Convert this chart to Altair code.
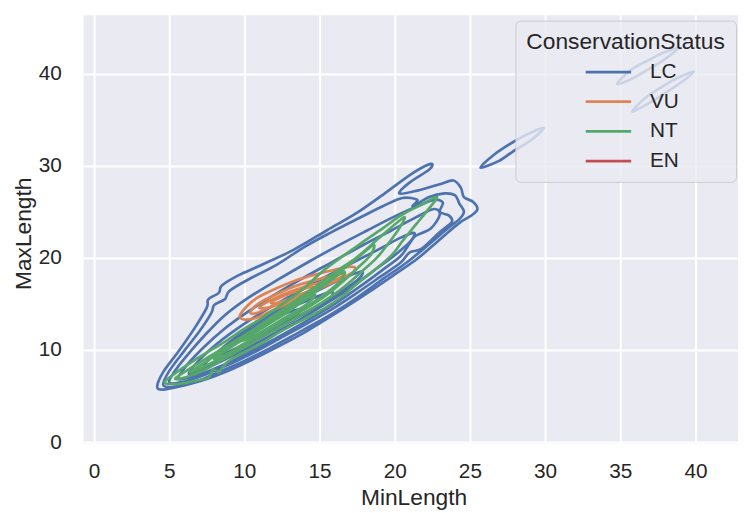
import altair as alt
import pandas as pd

STATUS = ["LC", "VU", "NT", "EN"]
COLORS = ["#4c72b0", "#dd8452", "#55a868", "#c44e52"]
X_TICKS = [0, 5, 10, 15, 20, 25, 30, 35, 40]
Y_TICKS = [0, 10, 20, 30, 40]

# KDE contour lines, (MinLength, MaxLength) per vertex
LC_1 = [(4.2,6.0),(4.6,7.6),(5.6,9.8),(6.7,12.4),(7.5,14.6),(7.6,15.5),(8.3,16.2),(8.5,17.0),(9.6,18.1),(11.1,19.2),(13.3,20.9),(15.5,23.0),(17.5,24.9),(19.5,27.2),(21.2,29.2),(22.4,30.2),(22.3,29.6),(21.0,28.2),(20.3,27.0),(21.5,27.3),(23.0,28.0),(23.9,28.4),(24.4,27.6),(24.6,26.6),(25.2,26.1),(25.5,25.3),(25.1,24.6),(24.3,23.8),(23.0,22.0),(21.5,19.9),(20.0,18.2),(18.3,16.3),(16.5,14.4),(15.0,12.9),(14.1,12.0),(12.4,10.5),(10.7,9.1),(9.0,7.8),(7.4,6.8),(5.6,6.0),(4.6,5.7)]
LC_2 = [(4.6,6.2),(5.0,7.7),(6.0,9.9),(7.0,12.0),(7.8,14.0),(8.0,14.9),(8.7,15.5),(9.0,16.4),(10.2,17.6),(12.2,19.3),(14.0,21.2),(15.8,22.8),(17.6,24.3),(19.2,25.6),(20.5,26.5),(21.5,26.3),(21.2,25.6),(22.3,26.6),(23.3,27.0),(24.0,26.8),(24.3,25.9),(24.6,25.0),(24.3,24.2),(23.6,23.3),(22.3,21.5),(20.8,19.5),(19.3,17.8),(17.6,15.8),(15.9,14.0),(14.4,12.6),(13.4,11.7),(11.7,10.2),(10.0,8.8),(8.3,7.6),(6.8,6.6),(5.3,6.0)]
LC_3 = [(5.0,6.5),(5.5,8.0),(6.5,10.0),(7.6,12.0),(8.8,13.9),(10.3,15.7),(12.2,17.6),(14.2,19.5),(16.2,21.3),(18.2,23.0),(20.0,24.5),(21.5,25.6),(22.6,26.3),(23.2,26.0),(23.0,25.0),(23.6,24.6),(23.8,23.9),(23.0,22.8),(21.8,21.0),(21.0,20.6),(20.4,19.5),(19.0,17.9),(17.4,16.1),(15.8,14.4),(14.2,12.9),(12.4,11.3),(10.6,9.7),(8.8,8.3),(7.2,7.2),(5.8,6.5)]
LC_4 = [(5.6,6.9),(6.2,8.4),(7.3,10.3),(8.6,12.2),(10.1,14.0),(11.9,15.9),(13.9,17.8),(15.9,19.6),(17.9,21.4),(19.8,23.0),(21.4,24.4),(22.6,25.3),(23.0,24.7),(22.4,23.2),(21.4,22.4),(21.0,21.6),(20.4,20.2),(19.2,18.7),(17.7,16.9),(16.2,15.2),(14.6,13.6),(12.9,12.0),(11.1,10.4),(9.3,8.9),(7.6,7.7),(6.3,7.0)]
LC_5 = [(6.3,7.4),(7.0,8.9),(8.2,10.7),(9.6,12.4),(11.2,14.1),(13.0,15.8),(15.0,17.6),(17.0,19.3),(18.9,20.9),(20.4,22.2),(21.3,22.7),(21.0,21.7),(20.0,20.3),(18.6,18.6),(17.1,16.8),(15.5,15.1),(13.8,13.4),(12.0,11.8),(10.2,10.2),(8.5,8.8),(7.1,7.8)]
LC_6 = [(7.3,8.3),(8.3,9.9),(9.6,11.6),(11.1,13.2),(12.8,14.8),(14.7,16.3),(16.6,17.8),(17.8,18.5),(17.6,17.7),(16.4,16.3),(14.9,14.8),(13.3,13.3),(11.6,11.8),(9.9,10.3),(8.3,8.9)]
LC_7 = [(8.5,9.6),(9.5,11.2),(10.9,12.7),(12.6,14.2),(14.4,15.5),(15.8,16.3),(15.6,15.5),(14.3,14.3),(12.7,13.0),(11.1,11.7),(9.6,10.3)]
LC_8 = [(9.6,11.0),(10.7,12.4),(12.2,13.6),(13.6,14.4),(13.4,13.8),(12.1,12.8),(10.6,11.5)]
LC_9 = [(25.7,29.8),(26.6,31.2),(27.7,32.4),(28.8,33.4),(29.9,34.1),(29.0,32.7),(27.9,31.6),(26.9,30.5)]
LC_10 = [(34.8,38.9),(35.7,40.4),(36.8,41.4),(37.9,42.3),(38.8,42.7),(37.9,41.5),(36.8,40.4),(35.7,39.4)]
LC_11 = [(35.8,35.9),(36.7,37.4),(37.8,38.6),(38.9,39.6),(39.9,40.2),(39.0,39.0),(37.9,37.8),(36.8,36.7)]

VU_1 = [(9.7,13.7),(10.2,14.8),(10.9,15.7),(12.0,16.6),(13.5,17.6),(15.0,18.3),(16.5,18.9),(17.3,19.0),(17.2,18.4),(16.2,17.6),(14.8,16.5),(13.5,15.5),(12.0,14.4),(10.8,13.5),(10.0,13.3)]
VU_2 = [(10.4,14.1),(11.0,15.1),(12.2,16.1),(13.7,17.1),(15.2,17.8),(16.5,18.3),(16.3,17.8),(14.9,16.8),(13.4,15.8),(11.9,14.8),(10.8,14.0)]
VU_3 = [(11.0,14.6),(12.0,15.6),(13.5,16.6),(15.0,17.3),(15.6,17.4),(14.7,16.6),(13.2,15.6),(11.8,14.7)]
VU_4 = [(11.8,15.2),(13.0,16.1),(14.3,16.8),(14.6,16.6),(13.4,15.8),(12.2,15.1)]

NT_1 = [(4.7,6.5),(5.6,7.7),(6.7,8.9),(7.8,10.0),(8.8,11.0),(9.8,12.1),(11.0,13.3),(12.2,14.6),(13.8,16.5),(15.4,18.8),(17.6,21.4),(19.2,23.2),(20.4,24.6),(21.8,25.8),(22.8,26.6),(22.3,25.4),(21.4,23.6),(20.5,21.8),(19.8,20.3),(18.6,18.6),(17.5,17.2),(16.5,15.8),(15.4,14.6),(14.3,13.6),(13.2,12.7),(12.2,11.8),(11.0,10.6),(9.8,9.6),(8.8,8.6),(8.3,7.6),(7.9,7.9),(7.6,7.0),(6.6,6.6),(5.5,6.3)]
NT_2 = [(5.4,6.9),(6.5,8.1),(7.8,9.4),(9.0,10.6),(10.2,11.8),(11.5,13.2),(13.0,14.9),(14.5,16.6),(16.0,18.4),(17.5,20.1),(19.0,22.2),(20.6,24.4),(20.3,23.2),(19.5,21.4),(18.8,20.0),(17.8,18.5),(16.6,16.8),(15.4,15.4),(14.1,14.1),(12.7,12.8),(11.3,11.5),(9.9,10.2),(8.6,9.0),(7.3,7.8),(6.2,7.1)]
NT_3 = [(6.4,7.6),(7.5,8.8),(8.8,10.2),(10.2,11.6),(11.6,13.1),(13.1,14.7),(14.6,16.4),(16.2,18.3),(17.6,20.1),(18.6,21.4),(18.4,20.3),(17.6,19.0),(16.6,17.5),(15.5,16.0),(14.2,14.6),(12.8,13.3),(11.3,11.9),(9.9,10.6),(8.5,9.2),(7.2,8.1)]
NT_4 = [(8.0,9.1),(9.3,10.5),(10.8,12.0),(12.3,13.5),(13.8,15.2),(15.3,17.0),(16.6,18.5),(16.4,17.5),(15.3,16.0),(14.0,14.6),(12.5,13.2),(11.0,11.7),(9.5,10.1),(8.5,9.3)]
NT_5 = [(9.8,11.1),(11.2,12.5),(12.7,14.0),(14.0,15.4),(14.7,16.0),(14.1,14.9),(12.7,13.5),(11.3,12.1),(10.2,11.2)]

CONTOURS = {
    "LC": [LC_1, LC_2, LC_3, LC_4, LC_5, LC_6, LC_7, LC_8, LC_9, LC_10, LC_11],
    "VU": [VU_1, VU_2, VU_3, VU_4],
    "NT": [NT_1, NT_2, NT_3, NT_4, NT_5],
    "EN": [],
}

rows = []
for g, paths in CONTOURS.items():
    for k, pts in enumerate(paths):
        for i, (px, py) in enumerate(pts):
            rows.append({"group": g, "cid": f"{g}_{k}", "i": i, "MinLength": px, "MaxLength": py})
df = pd.DataFrame(rows)

FONT = "Liberation Sans"
TXT = "#262626"

x_enc = alt.X("MinLength:Q",
              scale=alt.Scale(domain=[-0.72, 42.83], nice=False, zero=False),
              axis=alt.Axis(values=X_TICKS, title="MinLength", grid=True, gridColor="white", gridWidth=2,
                            ticks=False, domain=False, labelFontSize=21, labelColor=TXT, labelFont=FONT,
                            labelPadding=18, labelFlush=False, titleFontSize=23, titleFontWeight="normal",
                            titleColor=TXT, titleFont=FONT, titleX=334, titleY=55, titleBaseline="middle"))
y_enc = alt.Y("MaxLength:Q",
              scale=alt.Scale(domain=[-0.1, 46.4], nice=False, zero=False),
              axis=alt.Axis(values=Y_TICKS, title="MaxLength", grid=True, gridColor="white", gridWidth=2,
                            ticks=False, domain=False, labelFontSize=21, labelColor=TXT, labelFont=FONT,
                            labelPadding=22, labelFlush=False, titleFontSize=23, titleFontWeight="normal",
                            titleColor=TXT, titleFont=FONT, titleAngle=270, titleX=-60, titleY=221,
                            titleAlign="center", titleBaseline="middle"))
c_enc = alt.Color("group:N",
                  scale=alt.Scale(domain=STATUS, range=COLORS),
                  legend=alt.Legend(orient="none", legendX=437, legendY=6, title="ConservationStatus",
                                    titleFontSize=23, titleFontWeight="normal", titleColor=TXT, titleFont=FONT,
                                    titleLimit=400, labelLimit=200,
                                    labelFontSize=21, labelColor=TXT, labelFont=FONT,
                                    symbolType="M-1.7,0L1.7,0", symbolSize=729, symbolStrokeWidth=2.8,
                                    padding=11, fillColor="rgba(234,234,242,0.8)", strokeColor="#cccccc",
                                    cornerRadius=5, rowPadding=5, titlePadding=3, symbolOffset=68,
                                    labelOffset=27))

base = alt.Chart(df).mark_line(interpolate="cardinal-closed", strokeWidth=2.7, strokeJoin="round").encode(
    x=x_enc, y=y_enc, color=c_enc, detail="cid:N", order="i:Q")

layers = [base.transform_filter(alt.datum.group == g) for g in ["LC", "VU", "NT"]]

chart = alt.layer(*layers).properties(
    width=662, height=433,
    autosize=alt.AutoSizeParams(type="none"),
    padding={"left": 76, "top": 4, "right": 0, "bottom": 68},
    background="white",
).configure_view(fill="#EAEAF2", stroke="transparent")

chart.save("out.html", embed_options={"renderer": "svg", "actions": False})
